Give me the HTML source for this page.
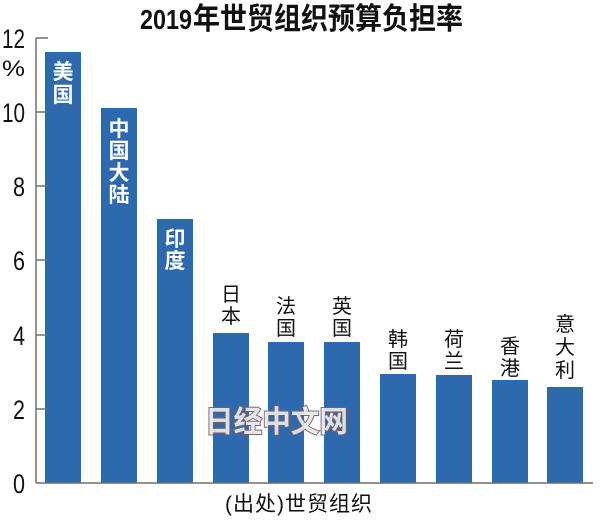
<!DOCTYPE html>
<html>
<head>
<meta charset="utf-8">
<style>
html,body{margin:0;padding:0;background:#fff;}
svg{display:block;}
.cjk{font-family:"Liberation Sans","Noto Sans CJK SC",sans-serif;}
</style>
</head>
<body>
<svg width="600" height="523" viewBox="0 0 600 523" xmlns="http://www.w3.org/2000/svg">
  <rect width="600" height="523" fill="#fff"/>
  <!-- Title -->
  <text x="140" y="29" font-family="Liberation Sans, sans-serif" font-weight="bold" font-size="28" textLength="52" lengthAdjust="spacingAndGlyphs" fill="#111">2019</text>
  <text x="193" y="29" class="cjk" font-family="Noto Sans CJK SC, sans-serif" font-weight="bold" font-size="30" textLength="270" lengthAdjust="spacingAndGlyphs" fill="#111">年世贸组织预算负担率</text>

  <!-- Bars -->
  <g fill="#2e69ad">
    <rect x="45" y="52" width="36" height="431"/>
    <rect x="101" y="108" width="36" height="375"/>
    <rect x="157" y="219" width="36" height="264"/>
    <rect x="213" y="333" width="36" height="150"/>
    <rect x="268" y="342" width="36" height="141"/>
    <rect x="324" y="342" width="36" height="141"/>
    <rect x="380" y="374" width="36" height="109"/>
    <rect x="436" y="375" width="36" height="108"/>
    <rect x="492" y="380" width="36" height="103"/>
    <rect x="547" y="387" width="36" height="96"/>
  </g>

  <!-- Axis -->
  <g stroke="#6f6f6f" stroke-width="1.5" fill="none">
    <line x1="36" y1="38" x2="36" y2="483"/>
    <line x1="36" y1="483" x2="593" y2="483"/>
    <line x1="36" y1="38" x2="48" y2="38"/>
    <line x1="36" y1="112" x2="48" y2="112"/>
    <line x1="36" y1="186" x2="48" y2="186"/>
    <line x1="36" y1="260" x2="48" y2="260"/>
    <line x1="36" y1="335" x2="48" y2="335"/>
    <line x1="36" y1="409" x2="48" y2="409"/>
  </g>

  <!-- Y labels -->
  <g font-family="Liberation Sans, sans-serif" font-size="27" fill="#111">
    <text x="2" y="48" textLength="23" lengthAdjust="spacingAndGlyphs">12</text>
    <text x="2" y="76" font-size="22" textLength="23" lengthAdjust="spacingAndGlyphs">%</text>
    <text x="2" y="122" textLength="23" lengthAdjust="spacingAndGlyphs">10</text>
    <text x="13" y="196" textLength="12" lengthAdjust="spacingAndGlyphs">8</text>
    <text x="13" y="270" textLength="12" lengthAdjust="spacingAndGlyphs">6</text>
    <text x="13" y="345" textLength="12" lengthAdjust="spacingAndGlyphs">4</text>
    <text x="13" y="419" textLength="12" lengthAdjust="spacingAndGlyphs">2</text>
    <text x="13" y="493" textLength="12" lengthAdjust="spacingAndGlyphs">0</text>
  </g>

  <!-- In-bar labels -->
  <g font-family="Noto Sans CJK SC, sans-serif" font-weight="bold" font-size="21" fill="#fff" text-anchor="middle">
    <text x="63" y="79">美</text>
    <text x="63" y="102">国</text>
    <text x="119" y="136">中</text>
    <text x="119" y="158">国</text>
    <text x="119" y="180">大</text>
    <text x="119" y="202">陆</text>
    <text x="175" y="246">印</text>
    <text x="175" y="268">度</text>
  </g>

  <!-- Above-bar labels -->
  <g font-family="Noto Sans CJK SC, sans-serif" font-size="20" fill="#111" text-anchor="middle">
    <text x="231" y="301">日</text>
    <text x="231" y="323">本</text>
    <text x="286" y="313">法</text>
    <text x="286" y="335">国</text>
    <text x="342" y="313">英</text>
    <text x="342" y="335">国</text>
    <text x="398" y="346">韩</text>
    <text x="398" y="368">国</text>
    <text x="454" y="346">荷</text>
    <text x="454" y="368">兰</text>
    <text x="510" y="353">香</text>
    <text x="510" y="375">港</text>
    <text x="565" y="331">意</text>
    <text x="565" y="354">大</text>
    <text x="565" y="377">利</text>
  </g>

  <!-- Watermark -->
  <text x="205" y="432" font-family="Noto Sans CJK SC, sans-serif" font-weight="bold" font-size="30" textLength="143" lengthAdjust="spacingAndGlyphs" fill="#e2e7f2" stroke="#7d5f5a" stroke-width="2" paint-order="stroke" opacity="0.95">日经中文网</text>

  <!-- Source -->
  <text x="225" y="511" class="cjk" font-family="Noto Sans CJK SC, sans-serif" font-size="21" textLength="147" lengthAdjust="spacing" fill="#111">(出处)世贸组织</text>
</svg>
</body>
</html>
